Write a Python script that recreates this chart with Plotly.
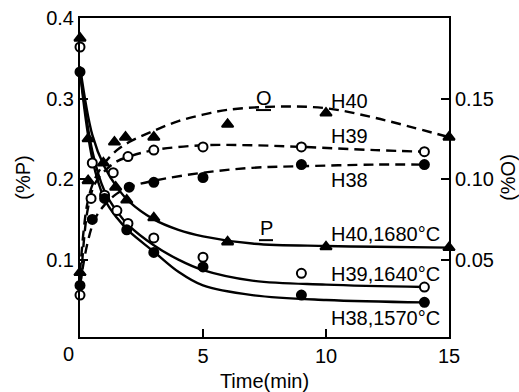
import plotly.graph_objects as go

# ---------------- data ----------------
# Phosphorus (%P, left axis) – measured points
t_p40 = [0, 0.33, 0.95, 1.45, 1.9, 3.0, 6.0, 10.0, 15.0]
p_40 = [0.375, 0.25, 0.22, 0.19, 0.174, 0.152, 0.122, 0.116, 0.115]
t_p39 = [0, 0.5, 1.0, 1.5, 1.95, 3.0, 5.0, 9.0, 14.0]
p_39 = [0.364, 0.22, 0.18, 0.161, 0.145, 0.127, 0.103, 0.083, 0.066]
t_p38 = [0, 1.9, 3.0, 5.0, 9.0, 14.0]
p_38 = [0.333, 0.137, 0.109, 0.091, 0.056, 0.047]

# Phosphorus fitted curves (solid lines)
t_fit_p = [0, 0.5, 1, 1.5, 2, 3, 4, 5, 7, 10, 12, 15]
fit_p40 = [0.34, 0.255, 0.215, 0.19, 0.172, 0.15, 0.137, 0.129, 0.12, 0.117, 0.116, 0.115]
t_fit_p2 = [0, 0.5, 1, 1.5, 2, 3, 4, 5, 7, 10, 14]
fit_p39 = [0.335, 0.235, 0.185, 0.16, 0.142, 0.118, 0.1, 0.087, 0.074, 0.069, 0.066]
fit_p38 = [0.333, 0.225, 0.175, 0.152, 0.135, 0.11, 0.085, 0.068, 0.056, 0.05, 0.047]

# Oxygen (%O, right axis) – measured points
t_o40 = [0, 0.33, 1.4, 1.85, 3.0, 6.0, 10.0, 15.0]
o_40 = [0.042, 0.099, 0.123, 0.126, 0.126, 0.134, 0.141, 0.126]
t_o39 = [0, 0.45, 1.35, 1.95, 3.0, 5.0, 9.0, 14.0]
o_39 = [0.028, 0.088, 0.104, 0.114, 0.118, 0.12, 0.12, 0.117]
t_o38 = [0, 0.5, 1.0, 2.0, 3.0, 5.0, 9.0, 14.0]
o_38 = [0.034, 0.075, 0.088, 0.095, 0.098, 0.101, 0.109, 0.109]

# Oxygen fitted curves (dashed lines)
t_fit_o40 = [0, 0.3, 0.6, 1, 1.5, 2, 3, 4, 5, 6, 8, 10, 12, 15]
fit_o40 = [0.042, 0.085, 0.1, 0.11, 0.118, 0.123, 0.13, 0.136, 0.14, 0.143, 0.145, 0.144, 0.138, 0.126]
t_fit_o = [0, 0.3, 0.6, 1, 1.5, 2, 3, 5, 7, 9, 12, 14]
fit_o39 = [0.028, 0.08, 0.097, 0.105, 0.111, 0.114, 0.118, 0.121, 0.121, 0.12, 0.118, 0.117]
fit_o38 = [0.034, 0.06, 0.075, 0.084, 0.091, 0.095, 0.099, 0.104, 0.107, 0.108, 0.109, 0.109]

x_ticks = [0, 5, 10, 15]
x_ticktext = ["", "5", "10", "15"]
p_ticks = [0.1, 0.2, 0.3, 0.4]
p_ticktext = ["0.1", "0.2", "0.3", "0.4"]
o_ticks = [0.05, 0.10, 0.15]
o_ticktext = ["0.05", "0.10", "0.15"]

FONT = "Liberation Sans, Arial, sans-serif"
BLACK = "black"

fig = go.Figure()

def curve(x, y, dash, yaxis):
    fig.add_trace(go.Scatter(x=x, y=y, mode="lines", yaxis=yaxis,
                             line=dict(color=BLACK, width=2.4, dash=dash, shape="spline", smoothing=1.0),
                             showlegend=False, hoverinfo="skip"))

def pts(x, y, symbol, fill, yaxis):
    fig.add_trace(go.Scatter(x=x, y=y, mode="markers", yaxis=yaxis,
                             marker=dict(symbol=symbol, size=10 if "triangle" in symbol else 9,
                                         color=fill, line=dict(color=BLACK, width=2)),
                             showlegend=False, cliponaxis=False))

DASH = "10px,6px"
# P curves
curve(t_fit_p, fit_p40, "solid", "y")
curve(t_fit_p2, fit_p39, "solid", "y")
curve(t_fit_p2, fit_p38, "solid", "y")
# O curves
curve(t_fit_o40, fit_o40, DASH, "y2")
curve(t_fit_o, fit_o39, DASH, "y2")
curve(t_fit_o, fit_o38, DASH, "y2")

pts(t_p40, p_40, "triangle-up", BLACK, "y")
pts(t_p39, p_39, "circle", "white", "y")
pts(t_p38, p_38, "circle", BLACK, "y")
pts(t_o40, o_40, "triangle-up", BLACK, "y2")
pts(t_o39, o_39, "circle", "white", "y2")
pts(t_o38, o_38, "circle", BLACK, "y2")

axis_common = dict(showgrid=False, zeroline=False, showline=True, linecolor=BLACK, linewidth=2,
                   ticks="inside", ticklen=8, tickwidth=2, tickcolor=BLACK, automargin=False,
                   tickfont=dict(family=FONT, size=20, color=BLACK))

fig.update_layout(
    width=519, height=392,
    margin=dict(l=80, r=70, t=18, b=55),
    paper_bgcolor="white", plot_bgcolor="white",
    xaxis=dict(range=[0, 15], tickvals=x_ticks, ticktext=x_ticktext, mirror=True,
               title=dict(text="Time(min)", font=dict(family=FONT, size=20, color=BLACK), standoff=9),
               **axis_common),
    yaxis=dict(range=[0.004, 0.4], tickvals=p_ticks, ticktext=p_ticktext,
               title=dict(text="(%P)", font=dict(family=FONT, size=20, color=BLACK), standoff=10),
               **axis_common),
    yaxis2=dict(range=[0.002, 0.2], overlaying="y", side="right", tickvals=o_ticks, ticktext=o_ticktext,
                title=dict(text="(%O)", font=dict(family=FONT, size=20, color=BLACK), standoff=10),
                **axis_common),
    font=dict(family=FONT, size=20, color=BLACK),
)

def px_to_t(px):
    return (px - 80) / 24.6

def py_to_p(py):
    return (340 - py) / 805

labels = [
    ("O", 263.5, 98, "center"),
    ("H40", 329, 101, "left"),
    ("H39", 329, 136, "left"),
    ("H38", 329, 180, "left"),
    ("P", 266, 228, "center"),
    ("H40,1680°C", 329, 234, "left"),
    ("H39,1640°C", 329, 274, "left"),
    ("H38,1570°C", 329, 318, "left"),
]
for txt, px, py, anchor in labels:
    fig.add_annotation(x=px_to_t(px), y=py_to_p(py), xref="x", yref="y", text=txt,
                       showarrow=False, xanchor=anchor, yanchor="middle",
                       font=dict(family=FONT, size=20, color=BLACK))

# underlines of "O" and "P"
fig.add_shape(type="line", xref="x", yref="y", x0=px_to_t(256), x1=px_to_t(271),
              y0=py_to_p(110), y1=py_to_p(110), line=dict(color=BLACK, width=2))
fig.add_shape(type="line", xref="x", yref="y", x0=px_to_t(259), x1=px_to_t(273),
              y0=py_to_p(240), y1=py_to_p(240), line=dict(color=BLACK, width=2))

# x-axis "0" label sits slightly left of the origin
fig.add_annotation(x=-12 / 369, y=0, xref="paper", yref="paper", text="0", showarrow=False,
                   xanchor="center", yanchor="top", yshift=-4,
                   font=dict(family=FONT, size=20, color=BLACK))

fig.write_html("out.html")
